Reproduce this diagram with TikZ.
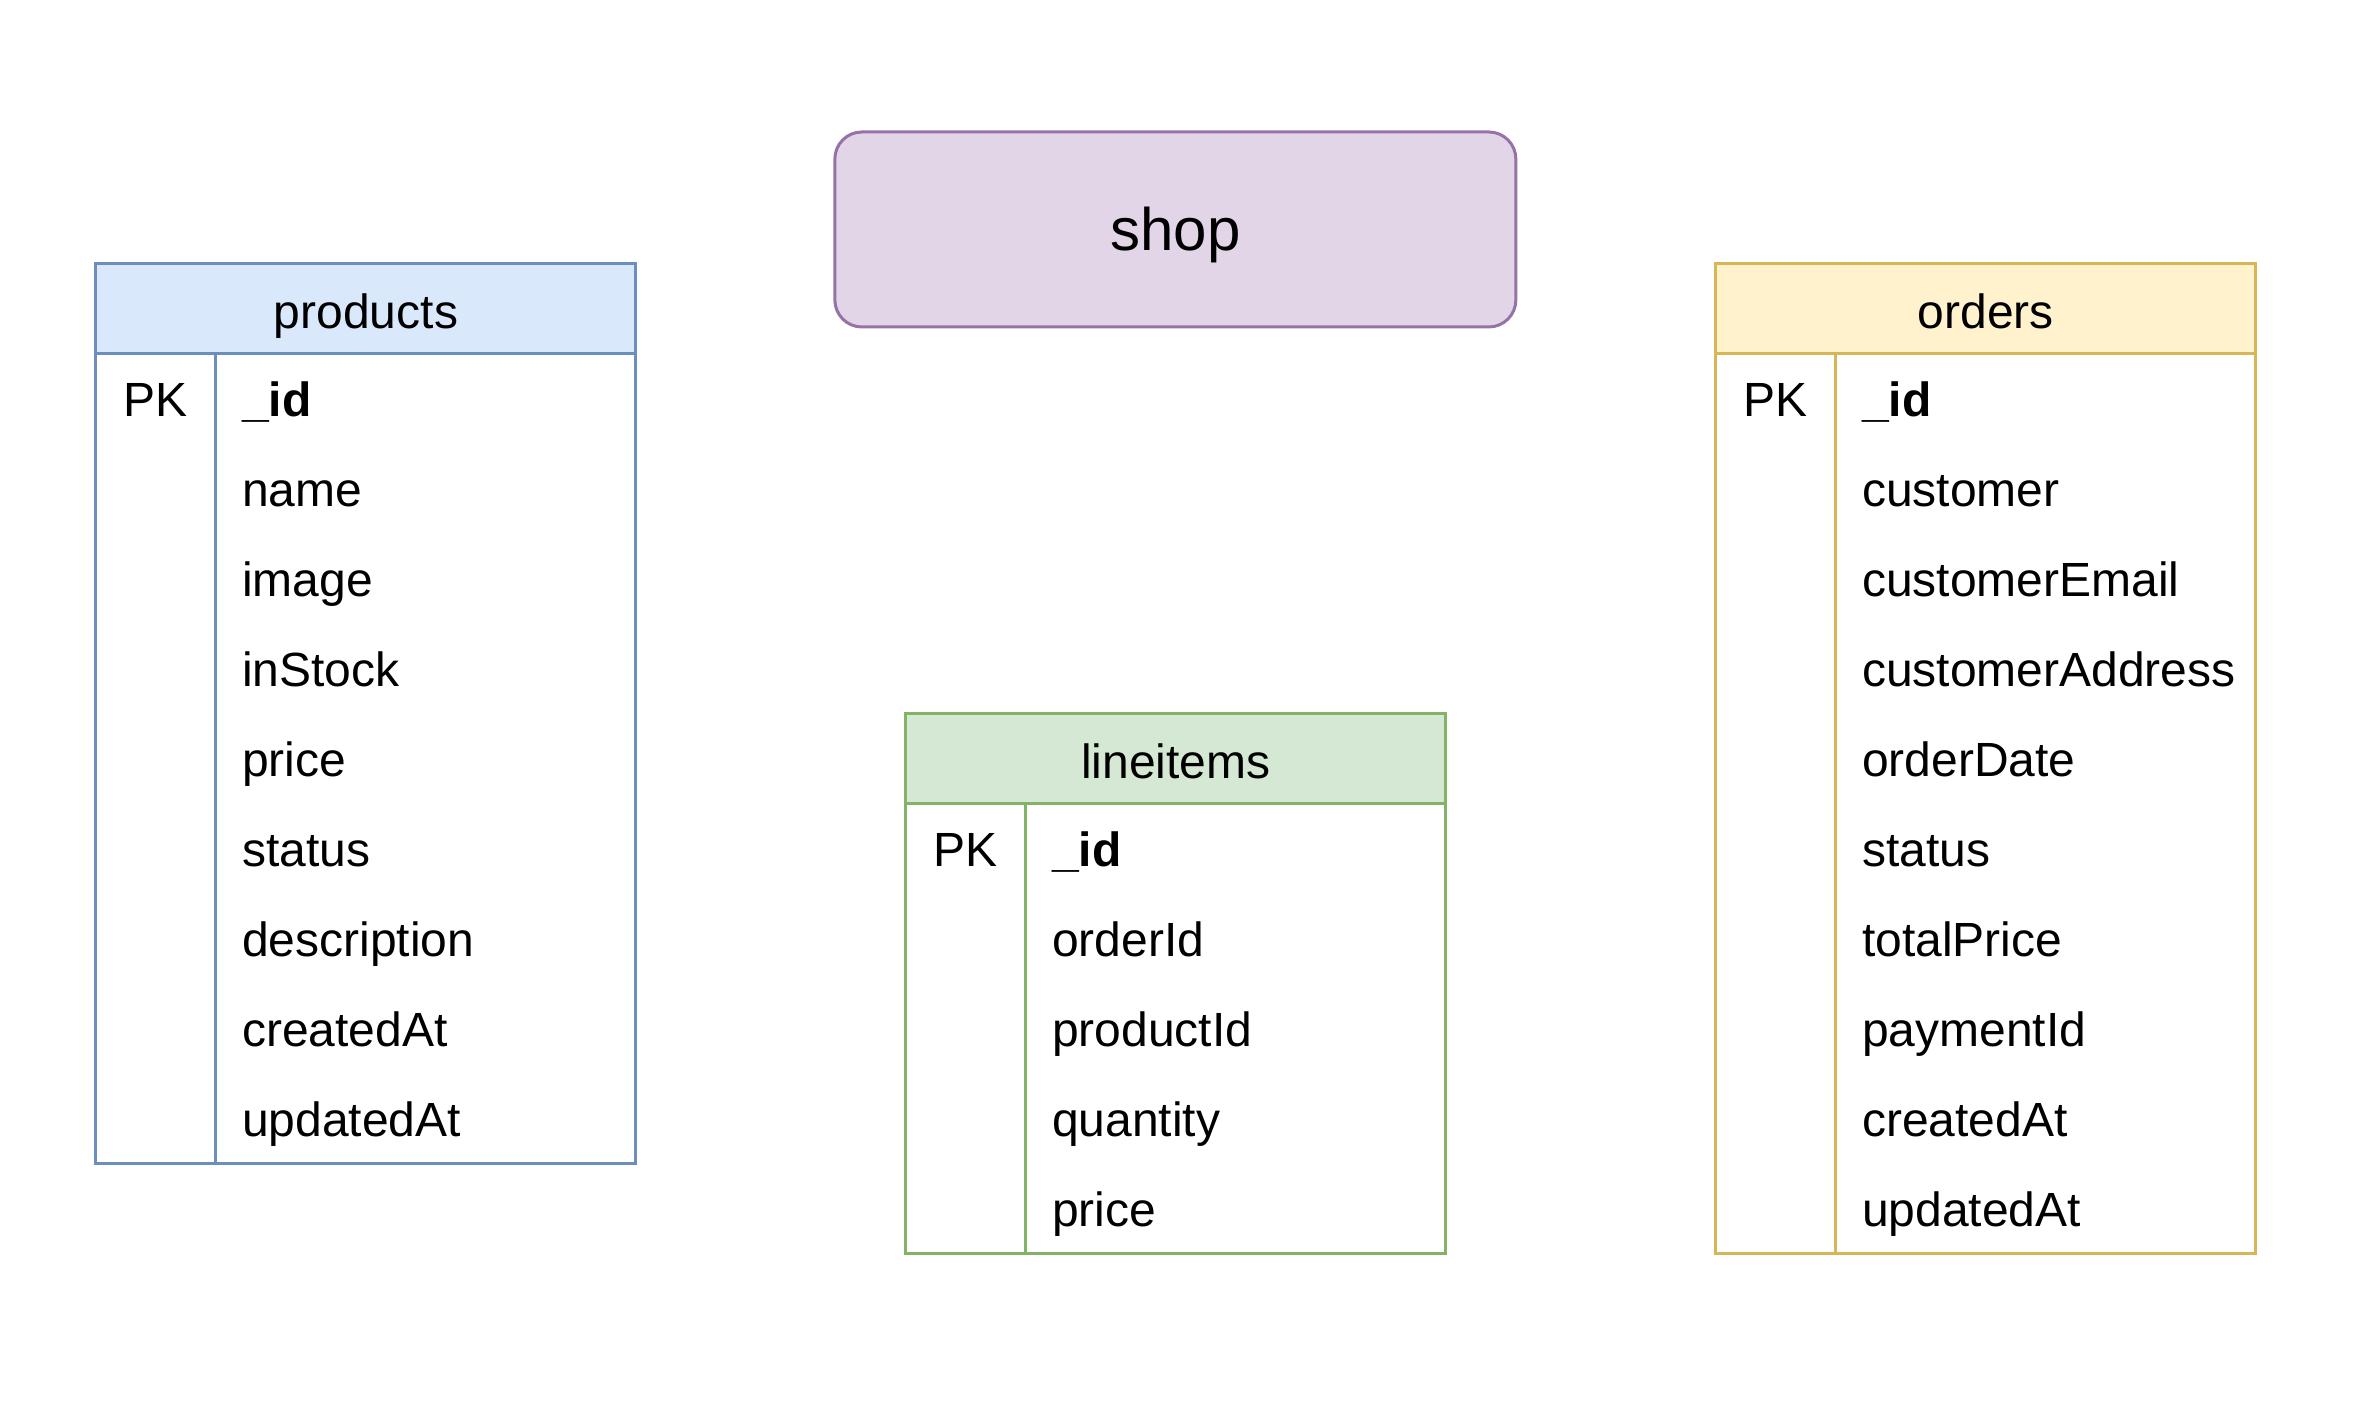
\documentclass[tikz,border=0pt]{standalone}
\usepackage{fontspec}
\setmainfont{Liberation Sans}
\usepackage{tikz}
\usetikzlibrary{positioning}
\usepackage{xcolor}
\definecolor{prodFill}{HTML}{DAE8FC}
\definecolor{prodLine}{HTML}{6C8EBF}
\definecolor{shopFill}{HTML}{E1D5E7}
\definecolor{shopLine}{HTML}{9673A6}
\definecolor{itemFill}{HTML}{D5E8D4}
\definecolor{itemLine}{HTML}{82B366}
\definecolor{ordFill}{HTML}{FFF2CC}
\definecolor{ordLine}{HTML}{D6B656}

\begin{document}
\begin{tikzpicture}[x=1pt,y=-1pt,
  header/.style={draw,line width=1pt,outer sep=0pt,minimum width=180pt,minimum height=30pt,inner sep=0pt,text height=16.5pt,text depth=3.5pt,font=\fontsize{16}{19}\selectfont},
  tbody/.style={draw,line width=1pt,outer sep=0pt,minimum width=180pt,inner sep=0pt},
  field/.style={anchor=base west,inner sep=0pt,font=\fontsize{16}{19}\selectfont},
  pk/.style={anchor=base,inner sep=0pt,font=\fontsize{16}{19}\selectfont}]
\useasboundingbox (0,0) rectangle (784.7,470);
\node [draw=shopLine,fill=shopFill,line width=1pt,rounded corners=9pt,minimum width=227pt,minimum height=65pt,text height=18.3pt,text depth=4.5pt,font=\fontsize{20}{24}\selectfont] (shop) at (391.8,76.5) {shop};
% products
\node [header,draw=prodLine,fill=prodFill] (products) at (122,103) {products};
\node [tbody,draw=prodLine,minimum height=270pt,below=0pt of products] (productsBody) {};
\draw [prodLine,line width=1pt]([xshift=40pt]productsBody.north west)--([xshift=40pt]productsBody.south west);
\node [pk] (productsPK) at (52,139) {PK};
\node [field] (productsId) at (80.5,139) {\textbf{\_id}};
\node [field] (productsName) at (80.5,169) {name};
\node [field] (productsImage) at (80.5,199) {image};
\node [field] (productsStock) at (80.5,229) {inStock};
\node [field] (productsPrice) at (80.5,259) {price};
\node [field] (productsStatus) at (80.5,289) {status};
\node [field] (productsDesc) at (80.5,319) {description};
\node [field] (productsCreated) at (80.5,349) {createdAt};
\node [field] (productsUpdated) at (80.5,379) {updatedAt};
% lineitems
\node [header,draw=itemLine,fill=itemFill] (lineitems) at (392,253) {lineitems};
\node [tbody,draw=itemLine,minimum height=150pt,below=0pt of lineitems] (lineitemsBody) {};
\draw [itemLine,line width=1pt]([xshift=40pt]lineitemsBody.north west)--([xshift=40pt]lineitemsBody.south west);
\node [pk] (lineitemsPK) at (322,289) {PK};
\node [field] (lineitemsId) at (350.5,289) {\textbf{\_id}};
\node [field] (lineitemsOrder) at (350.5,319) {orderId};
\node [field] (lineitemsProduct) at (350.5,349) {productId};
\node [field] (lineitemsQty) at (350.5,379) {quantity};
\node [field] (lineitemsPrice) at (350.5,409) {price};
% orders
\node [header,draw=ordLine,fill=ordFill] (orders) at (662,103) {orders};
\node [tbody,draw=ordLine,minimum height=300pt,below=0pt of orders] (ordersBody) {};
\draw [ordLine,line width=1pt]([xshift=40pt]ordersBody.north west)--([xshift=40pt]ordersBody.south west);
\node [pk] (ordersPK) at (592,139) {PK};
\node [field] (ordersId) at (620.5,139) {\textbf{\_id}};
\node [field] (ordersCustomer) at (620.5,169) {customer};
\node [field] (ordersEmail) at (620.5,199) {customerEmail};
\node [field] (ordersAddress) at (620.5,229) {customerAddress};
\node [field] (ordersDate) at (620.5,259) {orderDate};
\node [field] (ordersStatus) at (620.5,289) {status};
\node [field] (ordersTotal) at (620.5,319) {totalPrice};
\node [field] (ordersPayment) at (620.5,349) {paymentId};
\node [field] (ordersCreated) at (620.5,379) {createdAt};
\node [field] (ordersUpdated) at (620.5,409) {updatedAt};
\end{tikzpicture}
\end{document}
